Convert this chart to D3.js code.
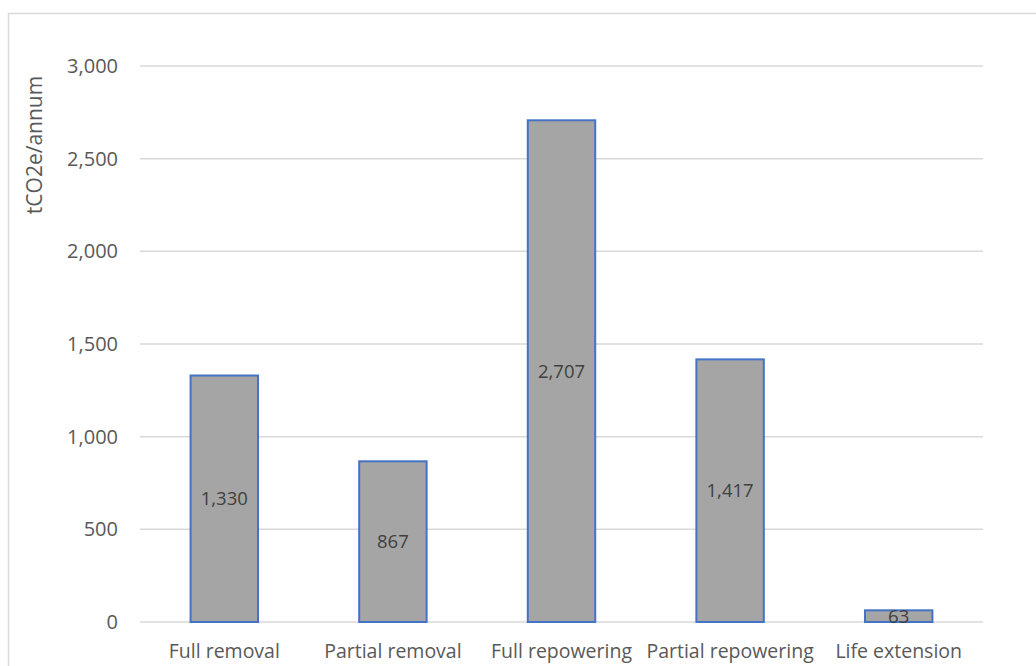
<!DOCTYPE html>
<html>
<head>
<meta charset="utf-8">
<script src="https://cdn.jsdelivr.net/npm/d3@7"></script>
<style>
  html, body { margin: 0; padding: 0; background: #ffffff; }
  svg { display: block; }
  text { font-family: "Open Sans", "Noto Sans", sans-serif; }
</style>
</head>
<body>
<svg id="chart" width="1036" height="666"></svg>
<script>
// Annual emissions by end-of-life scenario
const categories = ["Full removal", "Partial removal", "Full repowering", "Partial repowering", "Life extension"];
const emissions = [1330, 867, 2707, 1417, 63];
const yTicks = [0, 500, 1000, 1500, 2000, 2500, 3000];
const yTitle = "tCO2e/annum";

const svg = d3.select("#chart");
const plot = { left: 140, right: 983, top: 66, bottom: 622 };

// Chart frame
svg.append("rect")
  .attr("x", 8.5).attr("y", 13.5)
  .attr("width", 1040).attr("height", 670)
  .attr("fill", "none")
  .attr("stroke", "#d9d9d9")
  .attr("stroke-width", 1.5);

const x = d3.scaleBand()
  .domain(categories)
  .range([plot.left, plot.right])
  .paddingInner(0.6)
  .paddingOuter(0.3);

const y = d3.scaleLinear()
  .domain([0, 3000])
  .range([plot.bottom, plot.top]);

// Horizontal gridlines
svg.append("g")
  .selectAll("line")
  .data(yTicks)
  .join("line")
  .attr("x1", plot.left).attr("x2", plot.right)
  .attr("y1", d => y(d)).attr("y2", d => y(d))
  .attr("stroke", "#d9d9d9")
  .attr("stroke-width", 1.5);

// Y axis labels
const yAxis = d3.axisLeft(y)
  .tickValues(yTicks)
  .tickFormat(d3.format(","))
  .tickSize(0)
  .tickPadding(22);
const yg = svg.append("g")
  .attr("transform", `translate(${plot.left},0)`)
  .call(yAxis);
yg.select(".domain").remove();
yg.selectAll("text")
  .attr("fill", "#595959")
  .style("font-size", "20px");

// X axis labels
const xAxis = d3.axisBottom(x).tickSize(0).tickPadding(22);
const xg = svg.append("g")
  .attr("transform", `translate(0,${plot.bottom})`)
  .call(xAxis);
xg.select(".domain").remove();
xg.selectAll("text")
  .attr("fill", "#595959")
  .style("font-size", "19.5px");

// Bars
svg.append("g")
  .selectAll("rect")
  .data(categories)
  .join("rect")
  .attr("x", d => x(d))
  .attr("y", (d, i) => y(emissions[i]))
  .attr("width", x.bandwidth())
  .attr("height", (d, i) => y(0) - y(emissions[i]))
  .attr("fill", "#a5a5a5")
  .attr("stroke", "#4472c4")
  .attr("stroke-width", 2);

// Value labels centred inside each bar
svg.append("g")
  .selectAll("text")
  .data(categories)
  .join("text")
  .attr("x", d => x(d) + x.bandwidth() / 2)
  .attr("y", (d, i) => (y(emissions[i]) + y(0)) / 2)
  .attr("dy", "0.35em")
  .attr("text-anchor", "middle")
  .attr("fill", "#404040")
  .style("font-size", "18.5px")
  .text((d, i) => d3.format(",")(emissions[i]));

// Y axis title
svg.append("text")
  .attr("transform", "translate(35,145) rotate(-90)")
  .attr("dy", "0.35em")
  .attr("text-anchor", "middle")
  .attr("fill", "#595959")
  .style("font-size", "21px")
  .text(yTitle);
</script>
</body>
</html>
